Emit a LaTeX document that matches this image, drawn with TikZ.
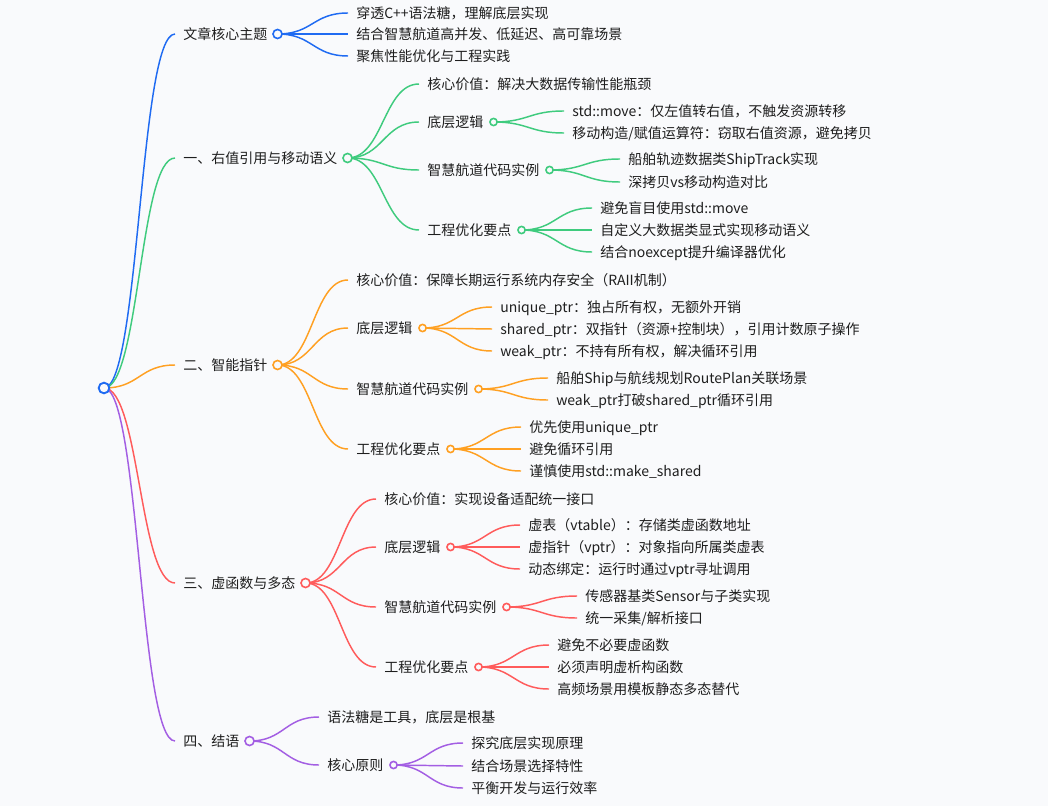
\documentclass[tikz,border=0pt]{standalone}
\usepackage{fontspec}
\setmainfont{Noto Sans CJK SC}
\usetikzlibrary{calc}

\pgfdeclarelayer{links}
\pgfsetlayers{links,main}

\definecolor{pagebg}{HTML}{F9FAFC}
\definecolor{textcol}{HTML}{1E1E1E}
\definecolor{mmblue}{HTML}{1F6BF2}
\definecolor{mmgreen}{HTML}{3FCB7E}
\definecolor{mmorange}{HTML}{FFA022}
\definecolor{mmred}{HTML}{FF5B5B}
\definecolor{mmpurple}{HTML}{A35EE3}

\begin{document}
\begin{tikzpicture}[
    x=0.75pt, y=-0.75pt,
    every node/.style={font=\fontsize{10.5}{12}\selectfont, text=textcol},
    topic/.style={
        anchor=west,
        inner xsep=6pt,
        inner ysep=0pt,
        text height=0.88em,
        text depth=0.12em
    },
    dot/.style={
        circle,
        draw,
        fill=pagebg,
        line width=1.2pt,
        inner sep=0pt,
        minimum size=6.8pt
    },
    subdot/.style={dot, minimum size=5.4pt},
    link/.style={
        line width=1.1pt,
        to path={let \p1=(\tikztostart), \p2=(\tikztotarget) in
            .. controls ({(\x1+\x2)/2},\y1) and ({(\x1+\x2)/2},\y2) .. (\tikztotarget)}
    }
]

    \useasboundingbox (0,0) rectangle (1048,806);

    % Root
    \node[dot, draw=mmblue, line width=1.4pt, minimum size=8pt] (root) at (104,388) {};

    % Core theme
    \node[topic] (s0) at (175,34) {文章核心主题};
    \node[dot, draw=mmblue] (s0dot) at ($(s0.east)+(2,0)$) {};
    \node[topic] (s0a) at (348,13) {穿透C++语法糖，理解底层实现};
    \node[topic] (s0b) at (348,34) {结合智慧航道高并发、低延迟、高可靠场景};
    \node[topic] (s0c) at (348,56) {聚焦性能优化与工程实践};

    % Section one
    \node[topic] (s1) at (175,158) {一、右值引用与移动语义};
    \node[dot, draw=mmgreen] (s1dot) at ($(s1.east)+(2,0)$) {};
    \node[topic] (s1a) at (419,84) {核心价值：解决大数据传输性能瓶颈};
    \node[topic] (s1b) at (419,122) {底层逻辑};
    \node[subdot, draw=mmgreen] (s1bdot) at ($(s1b.east)+(2,0)$) {};
    \node[topic] (s1b1) at (564,111) {std::move：仅左值转右值，不触发资源转移};
    \node[topic] (s1b2) at (564,133) {移动构造/赋值运算符：窃取右值资源，避免拷贝};
    \node[topic] (s1c) at (419,170) {智慧航道代码实例};
    \node[subdot, draw=mmgreen] (s1cdot) at ($(s1c.east)+(2,0)$) {};
    \node[topic] (s1c1) at (620,159) {船舶轨迹数据类ShipTrack实现};
    \node[topic] (s1c2) at (620,182) {深拷贝vs移动构造对比};
    \node[topic] (s1d) at (419,230) {工程优化要点};
    \node[subdot, draw=mmgreen] (s1ddot) at ($(s1d.east)+(2,0)$) {};
    \node[topic] (s1d1) at (592,208) {避免盲目使用std::move};
    \node[topic] (s1d2) at (592,230) {自定义大数据类显式实现移动语义};
    \node[topic] (s1d3) at (592,252) {结合noexcept提升编译器优化};

    % Section two
    \node[topic] (s2) at (175,365) {二、智能指针};
    \node[dot, draw=mmorange] (s2dot) at ($(s2.east)+(2,0)$) {};
    \node[topic] (s2a) at (348,280) {核心价值：保障长期运行系统内存安全（RAII机制）};
    \node[topic] (s2b) at (348,328) {底层逻辑};
    \node[subdot, draw=mmorange] (s2bdot) at ($(s2b.east)+(2,0)$) {};
    \node[topic] (s2b1) at (492,307) {unique\_ptr：独占所有权，无额外开销};
    \node[topic] (s2b2) at (492,329) {shared\_ptr：双指针（资源+控制块），引用计数原子操作};
    \node[topic] (s2b3) at (492,351) {weak\_ptr：不持有所有权，解决循环引用};
    \node[topic] (s2c) at (348,389) {智慧航道代码实例};
    \node[subdot, draw=mmorange] (s2cdot) at ($(s2c.east)+(2,0)$) {};
    \node[topic] (s2c1) at (548,378) {船舶Ship与航线规划RoutePlan关联场景};
    \node[topic] (s2c2) at (548,400) {weak\_ptr打破shared\_ptr循环引用};
    \node[topic] (s2d) at (348,449) {工程优化要点};
    \node[subdot, draw=mmorange] (s2ddot) at ($(s2d.east)+(2,0)$) {};
    \node[topic] (s2d1) at (521,427) {优先使用unique\_ptr};
    \node[topic] (s2d2) at (521,449) {避免循环引用};
    \node[topic] (s2d3) at (521,471) {谨慎使用std::make\_shared};

    % Section three
    \node[topic] (s3) at (175,583) {三、虚函数与多态};
    \node[dot, draw=mmred] (s3dot) at ($(s3.east)+(2,0)$) {};
    \node[topic] (s3a) at (376,499) {核心价值：实现设备适配统一接口};
    \node[topic] (s3b) at (376,547) {底层逻辑};
    \node[subdot, draw=mmred] (s3bdot) at ($(s3b.east)+(2,0)$) {};
    \node[topic] (s3b1) at (520,525) {虚表（vtable）：存储类虚函数地址};
    \node[topic] (s3b2) at (520,547) {虚指针（vptr）：对象指向所属类虚表};
    \node[topic] (s3b3) at (520,569) {动态绑定：运行时通过vptr寻址调用};
    \node[topic] (s3c) at (376,607) {智慧航道代码实例};
    \node[subdot, draw=mmred] (s3cdot) at ($(s3c.east)+(2,0)$) {};
    \node[topic] (s3c1) at (577,596) {传感器基类Sensor与子类实现};
    \node[topic] (s3c2) at (577,618) {统一采集/解析接口};
    \node[topic] (s3d) at (376,667) {工程优化要点};
    \node[subdot, draw=mmred] (s3ddot) at ($(s3d.east)+(2,0)$) {};
    \node[topic] (s3d1) at (549,645) {避免不必要虚函数};
    \node[topic] (s3d2) at (549,667) {必须声明虚析构函数};
    \node[topic] (s3d3) at (549,689) {高频场景用模板静态多态替代};

    % Section four
    \node[topic] (s4) at (175,741) {四、结语};
    \node[dot, draw=mmpurple] (s4dot) at ($(s4.east)+(2,0)$) {};
    \node[topic] (s4a) at (319,717) {语法糖是工具，底层是根基};
    \node[topic] (s4b) at (319,765) {核心原则};
    \node[subdot, draw=mmpurple] (s4bdot) at ($(s4b.east)+(2,0)$) {};
    \node[topic] (s4b1) at (463,743) {探究底层实现原理};
    \node[topic] (s4b2) at (463,766) {结合场景选择特性};
    \node[topic] (s4b3) at (463,788) {平衡开发与运行效率};

    % Links, below the dots
    \begin{pgfonlayer}{links}
        \fill[pagebg] (0,0) rectangle (1048,806);

        \draw[link, mmblue] (root.center) to (s0.west);
        \draw[link, mmblue] (s0dot.center) to (s0a.west);
        \draw[link, mmblue] (s0dot.center) to (s0b.west);
        \draw[link, mmblue] (s0dot.center) to (s0c.west);

        \draw[link, mmgreen] (root.center) to (s1.west);
        \draw[link, mmgreen] (s1dot.center) to (s1a.west);
        \draw[link, mmgreen] (s1dot.center) to (s1b.west);
        \draw[link, mmgreen] (s1dot.center) to (s1c.west);
        \draw[link, mmgreen] (s1dot.center) to (s1d.west);
        \draw[link, mmgreen] (s1bdot.center) to (s1b1.west);
        \draw[link, mmgreen] (s1bdot.center) to (s1b2.west);
        \draw[link, mmgreen] (s1cdot.center) to (s1c1.west);
        \draw[link, mmgreen] (s1cdot.center) to (s1c2.west);
        \draw[link, mmgreen] (s1ddot.center) to (s1d1.west);
        \draw[link, mmgreen] (s1ddot.center) to (s1d2.west);
        \draw[link, mmgreen] (s1ddot.center) to (s1d3.west);

        \draw[link, mmorange] (root.center) to (s2.west);
        \draw[link, mmorange] (s2dot.center) to (s2a.west);
        \draw[link, mmorange] (s2dot.center) to (s2b.west);
        \draw[link, mmorange] (s2dot.center) to (s2c.west);
        \draw[link, mmorange] (s2dot.center) to (s2d.west);
        \draw[link, mmorange] (s2bdot.center) to (s2b1.west);
        \draw[link, mmorange] (s2bdot.center) to (s2b2.west);
        \draw[link, mmorange] (s2bdot.center) to (s2b3.west);
        \draw[link, mmorange] (s2cdot.center) to (s2c1.west);
        \draw[link, mmorange] (s2cdot.center) to (s2c2.west);
        \draw[link, mmorange] (s2ddot.center) to (s2d1.west);
        \draw[link, mmorange] (s2ddot.center) to (s2d2.west);
        \draw[link, mmorange] (s2ddot.center) to (s2d3.west);

        \draw[link, mmred] (root.center) to (s3.west);
        \draw[link, mmred] (s3dot.center) to (s3a.west);
        \draw[link, mmred] (s3dot.center) to (s3b.west);
        \draw[link, mmred] (s3dot.center) to (s3c.west);
        \draw[link, mmred] (s3dot.center) to (s3d.west);
        \draw[link, mmred] (s3bdot.center) to (s3b1.west);
        \draw[link, mmred] (s3bdot.center) to (s3b2.west);
        \draw[link, mmred] (s3bdot.center) to (s3b3.west);
        \draw[link, mmred] (s3cdot.center) to (s3c1.west);
        \draw[link, mmred] (s3cdot.center) to (s3c2.west);
        \draw[link, mmred] (s3ddot.center) to (s3d1.west);
        \draw[link, mmred] (s3ddot.center) to (s3d2.west);
        \draw[link, mmred] (s3ddot.center) to (s3d3.west);

        \draw[link, mmpurple] (root.center) to (s4.west);
        \draw[link, mmpurple] (s4dot.center) to (s4a.west);
        \draw[link, mmpurple] (s4dot.center) to (s4b.west);
        \draw[link, mmpurple] (s4bdot.center) to (s4b1.west);
        \draw[link, mmpurple] (s4bdot.center) to (s4b2.west);
        \draw[link, mmpurple] (s4bdot.center) to (s4b3.west);
    \end{pgfonlayer}

\end{tikzpicture}
\end{document}
